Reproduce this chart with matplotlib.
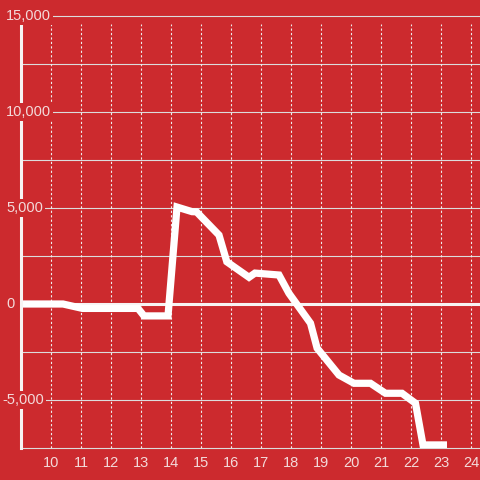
import numpy as np
import matplotlib
matplotlib.use("Agg")
import matplotlib.pyplot as plt
import matplotlib.transforms as mtransforms

# data
hours = [9.0, 10.4, 11.05, 12.9, 13.1, 13.9, 14.2, 14.7, 14.85, 15.6, 15.86,
         16.6, 16.8, 17.6, 17.93, 18.65, 18.87, 19.6, 20.1, 20.65, 21.15,
         21.7, 22.15, 22.4, 23.2]
values = [0, 0, -230, -230, -620, -620, 5050, 4810, 4800, 3590, 2200,
          1390, 1610, 1510, 560, -1000, -2300, -3700, -4130, -4130, -4650,
          -4650, -5170, -7340, -7340]

xticks = list(range(10, 25))
ygrid = [-5000, -2500, 0, 2500, 5000, 7500, 10000, 12500, 15000]
ylabel_vals = [-5000, 0, 5000, 10000, 15000]
ylabel_txt = ["-5,000", "0", "5,000", "10,000", "15,000"]

RED = "#cc2a2e"
TXT = "#f3dada"
GRID = "#dcdcdc"
WHITE = "#f7f3f3"

plt.rcParams['font.family'] = ['Liberation Sans', 'DejaVu Sans']

fig = plt.figure(figsize=(4.8, 4.8), dpi=100, facecolor=RED)
ax = fig.add_axes([21 / 480, 32 / 480, 459 / 480, 432 / 480])
ax.set_facecolor(RED)

ax.set_xlim(9.0, 24.3)
ax.set_ylim(-7500, 15000)
top_val = 14583

# horizontal grid
for v in ygrid:
    if v == 0:
        continue
    ax.axhline(v, color=GRID, lw=0.8, zorder=1, clip_on=False)
# vertical dotted grid
ax.vlines(xticks, -7500, top_val, colors="#eeeeee", lw=0.8,
          linestyles=(0, (2, 2)), zorder=1)

# zero line
ax.axhline(0, color=WHITE, lw=2.2, zorder=2)

# data line
ax.plot(hours, values, color="white", lw=5.2, zorder=3,
        solid_capstyle="butt", solid_joinstyle="miter")

# spines
for s in ["top", "right"]:
    ax.spines[s].set_visible(False)
ax.spines["left"].set_color(WHITE)
ax.spines["left"].set_linewidth(2.2)
ax.spines["left"].set_bounds(-7500, top_val)
ax.spines["left"].set_zorder(4)
ax.spines["bottom"].set_color(GRID)
ax.spines["bottom"].set_linewidth(0.8)

ax.set_xticks(xticks)
ax.set_xticklabels([str(t) for t in xticks])
ax.tick_params(axis="x", length=0, pad=6, labelsize=10.5, labelcolor=TXT)
ax.set_yticks([])

# y labels, left aligned over the spine
for v, lab in zip(ylabel_vals, ylabel_txt):
    dx = -19 if lab.startswith("-") else -15
    off = mtransforms.ScaledTranslation(dx / 100, 0, fig.dpi_scale_trans)
    ax.text(0, v, lab, transform=ax.get_yaxis_transform() + off,
            ha="left", va="center", fontsize=10.5, color=TXT, zorder=5,
            clip_on=False,
            bbox=dict(boxstyle="square,pad=0.15", fc=RED, ec="none"))

fig.savefig("out.png", dpi=100, facecolor=RED)
